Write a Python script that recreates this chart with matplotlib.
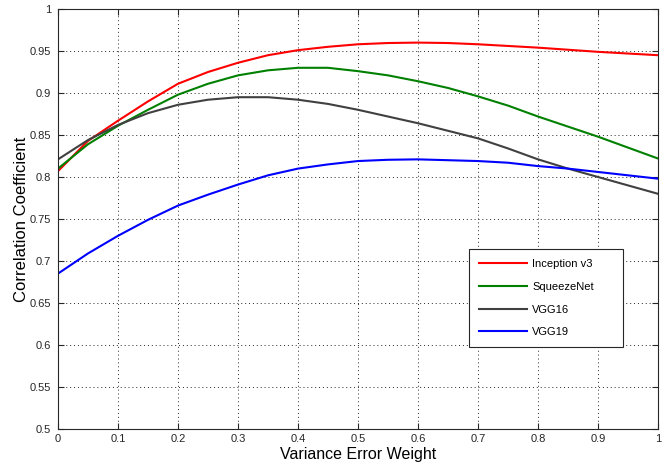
import matplotlib
matplotlib.use("Agg")
import matplotlib.pyplot as plt
import numpy as np

plt.rcParams['font.family'] = ['Liberation Sans', 'DejaVu Sans']

x = [0.0, 0.05, 0.1, 0.15, 0.2, 0.25, 0.3, 0.35, 0.4, 0.45, 0.5,
     0.55, 0.6, 0.65, 0.7, 0.75, 0.8, 0.85, 0.9, 0.95, 1.0]

inception = [0.807, 0.843, 0.867, 0.890, 0.911, 0.925, 0.936, 0.945, 0.951, 0.955, 0.958,
             0.9595, 0.960, 0.9595, 0.958, 0.956, 0.954, 0.9515, 0.949, 0.947, 0.945]
squeezenet = [0.810, 0.839, 0.861, 0.880, 0.898, 0.911, 0.921, 0.927, 0.930, 0.930, 0.926,
              0.921, 0.914, 0.906, 0.896, 0.885, 0.872, 0.860, 0.848, 0.835, 0.822]
vgg16 = [0.821, 0.844, 0.862, 0.876, 0.886, 0.892, 0.895, 0.895, 0.892, 0.887, 0.880,
         0.872, 0.864, 0.855, 0.846, 0.834, 0.821, 0.810, 0.800, 0.790, 0.780]
vgg19 = [0.685, 0.709, 0.730, 0.749, 0.766, 0.779, 0.791, 0.802, 0.810, 0.815, 0.819,
         0.8205, 0.821, 0.820, 0.819, 0.817, 0.813, 0.810, 0.806, 0.802, 0.798]

labels = ["Inception v3", "SqueezeNet", "VGG16", "VGG19"]
colors = ["#ff0000", "#008000", "#404040", "#0000ff"]

xticks = [0, 0.1, 0.2, 0.3, 0.4, 0.5, 0.6, 0.7, 0.8, 0.9, 1]
xticklabels = ["0", "0.1", "0.2", "0.3", "0.4", "0.5", "0.6", "0.7", "0.8", "0.9", "1"]
yticks = [0.5, 0.55, 0.6, 0.65, 0.7, 0.75, 0.8, 0.85, 0.9, 0.95, 1]
yticklabels = ["0.5", "0.55", "0.6", "0.65", "0.7", "0.75", "0.8", "0.85", "0.9", "0.95", "1"]

fig = plt.figure(figsize=(6.66, 4.67), dpi=100)
ax = fig.add_axes([58/666, 1-429/467, 600/666, 420/467])

for ys, lab, c in zip([inception, squeezenet, vgg16, vgg19], labels, colors):
    ax.plot(x, ys, color=c, lw=1.5, label=lab)

ax.set_xlim(0, 1)
ax.set_ylim(0.5, 1)
ax.set_xticks(xticks)
ax.set_xticklabels(xticklabels)
ax.set_yticks(yticks)
ax.set_yticklabels(yticklabels)
ax.tick_params(direction='in', top=True, right=True, length=4, width=0.8,
               labelsize=8, colors='#262626', labelcolor='#262626')
ax.tick_params(axis='y', pad=5)
ax.grid(True, color='#262626', linestyle=(0, (1, 3)), linewidth=0.7)
for s in ax.spines.values():
    s.set_color('#262626')
    s.set_linewidth(0.8)

ax.set_xlabel("Variance Error Weight", fontsize=11.5, labelpad=2)
ax.set_ylabel("Correlation Coefficient", fontsize=12, labelpad=0.5)

leg = ax.legend(loc='upper left', bbox_to_anchor=(0.685, 0.1905, 0.2567, 0.2381),
                mode='expand', borderaxespad=0,
                fancybox=False, framealpha=1, edgecolor='#262626', fontsize=8,
                handlelength=4.3, labelspacing=1.15, borderpad=0.9, handletextpad=0.5)
leg.get_frame().set_linewidth(0.8)

fig.savefig("out.png", dpi=100)
